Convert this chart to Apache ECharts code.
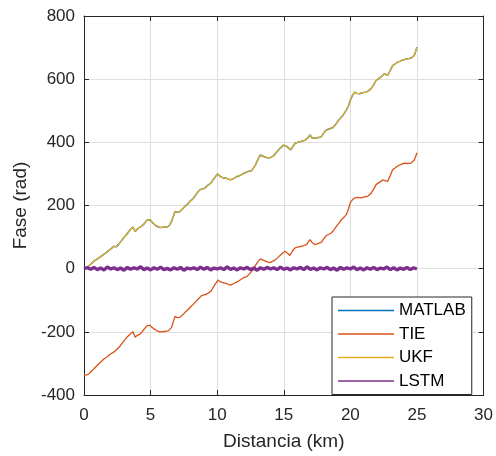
<!DOCTYPE html>
<html>
<head>
<meta charset="utf-8">
<script src="https://cdn.jsdelivr.net/npm/echarts@6/dist/echarts.min.js"></script>
<style>html,body{margin:0;padding:0;background:#fff}#c{width:496px;height:456px}</style>
</head>
<body>
<div id="c"></div>
<script>
const seriesNames = ['MATLAB', 'TIE', 'UKF', 'LSTM'];
const xTicks = [0, 5, 10, 15, 20, 25, 30];
const yTicks = [-400, -200, 0, 200, 400, 600, 800];

const ukfDist = [0,0.25,0.5,0.75,1.0,1.25,1.49,1.75,2.0,2.24,2.4,2.6,2.8,2.98,3.2,3.48,3.68,3.84,4.1,4.3,4.47,4.72,4.97,5.2,5.4,5.59,5.8,5.96,6.2,6.4,6.58,6.83,7.0,7.2,7.4,7.57,7.8,7.95,8.15,8.32,8.5,8.7,8.9,9.07,9.25,9.39,9.55,9.69,9.85,10.03,10.2,10.4,10.7,11.0,11.25,11.5,11.75,12.0,12.25,12.4,12.6,12.87,13.05,13.24,13.49,13.7,13.86,14.05,14.23,14.4,14.6,14.8,14.98,15.2,15.35,15.52,15.7,15.85,16.05,16.22,16.4,16.6,16.8,16.97,17.15,17.3,17.6,17.83,18.0,18.2,18.45,18.7,18.9,19.07,19.25,19.45,19.7,19.85,20.0,20.15,20.32,20.5,20.69,20.9,21.18,21.35,21.56,21.75,21.93,22.1,22.3,22.55,22.8,23.0,23.17,23.35,23.55,23.75,23.92,24.15,24.4,24.6,24.8,24.9,25.0];
const ukfPhase = [0,5,14,24,31,38,45,54,62,71,69,77,88,98,108,124,132,118,129,134,140,153,155,143,136,132,130,132,131,136,150,181,178,181,189,197,205,213,220,229,240,250,252,255,262,265,272,281,290,300,293,288,286,281,286,292,296,302,307,303,311,328,345,360,355,352,350,353,357,366,376,384,391,388,386,376,388,397,400,402,404,407,414,423,413,407,415,418,430,439,443,447,457,468,476,486,502,515,533,548,559,555,554,557,559,563,570,582,596,601,607,617,612,628,643,648,654,657,661,663,665,668,675,688,701];

const matlabDist = ukfDist;
const matlabPhase = ukfPhase;

const tieDist = [0,0.2,0.37,0.55,0.75,0.95,1.12,1.3,1.49,1.75,1.99,2.2,2.36,2.55,2.73,2.9,3.1,3.3,3.48,3.68,3.84,4.0,4.22,4.45,4.72,4.92,5.2,5.45,5.7,6.0,6.33,6.58,6.83,7.0,7.2,7.4,7.57,7.8,7.95,8.2,8.44,8.65,8.81,9.0,9.19,9.4,9.56,9.8,10.06,10.25,10.43,10.7,11.0,11.25,11.5,11.75,12.0,12.24,12.45,12.62,12.8,13.0,13.24,13.45,13.6,13.8,13.97,14.15,14.34,14.55,14.72,14.9,15.09,15.3,15.46,15.65,15.85,16.1,16.35,16.55,16.72,16.85,16.97,17.15,17.35,17.6,17.83,18.0,18.2,18.4,18.57,18.75,18.95,19.15,19.32,19.5,19.7,19.85,19.99,20.15,20.32,20.55,20.81,21.05,21.3,21.56,21.75,21.93,22.2,22.43,22.6,22.8,23.0,23.17,23.35,23.55,23.8,24.05,24.3,24.54,24.8,24.9,25.0];
const tiePhase = [-338,-336,-333,-325,-317,-308,-301,-294,-286,-279,-270,-265,-260,-252,-244,-234,-223,-214,-207,-200,-217,-211,-207,-195,-181,-179,-189,-196,-200,-199,-197,-186,-151,-155,-154,-147,-139,-130,-123,-113,-102,-93,-86,-83,-81,-75,-70,-52,-36,-42,-44,-47,-52,-47,-42,-35,-28,-25,-15,-7,5,19,31,27,24,21,19,23,27,35,42,49,55,48,42,56,66,69,71,74,76,85,92,82,76,80,84,95,105,109,113,122,134,145,155,162,171,188,208,218,224,226,224,227,229,239,252,266,274,281,279,276,295,313,319,325,330,334,333,334,344,355,367];

const lstmDist = [0,0.25,0.5,0.75,1,1.25,1.5,1.75,2,2.25,2.5,2.75,3,3.25,3.5,3.75,4,4.25,4.5,4.75,5,5.25,5.5,5.75,6,6.25,6.5,6.75,7,7.25,7.5,7.75,8,8.25,8.5,8.75,9,9.25,9.5,9.75,10,10.25,10.5,10.75,11,11.25,11.5,11.75,12,12.25,12.5,12.75,13,13.25,13.5,13.75,14,14.25,14.5,14.75,15,15.25,15.5,15.75,16,16.25,16.5,16.75,17,17.25,17.5,17.75,18,18.25,18.5,18.75,19,19.25,19.5,19.75,20,20.25,20.5,20.75,21,21.25,21.5,21.75,22,22.25,22.5,22.75,23,23.25,23.5,23.75,24,24.25,24.5,24.75,25];
const lstmPhase = [0,3,-2,4,-3,2,-4,5,-1,3,-3,2,-5,4,-2,3,-1,6,-3,2,-4,3,-2,5,-3,1,-4,3,-2,4,-5,2,-1,3,-3,5,-2,4,-4,2,-1,3,-3,6,-2,2,-4,3,-1,4,-3,2,-5,3,-2,4,-1,3,-3,5,-2,2,-4,3,-1,4,-3,6,-2,2,-4,3,-1,4,-3,2,-5,4,-2,3,-1,5,-3,2,-4,3,-2,4,-3,2,-1,5,-3,3,-4,2,-2,4,-3,3,-1,4,2];

const colors = ['#0072BD', '#D95319', '#EDB120', '#7E2F8E'];
const FONT = 'Liberation Sans, Arial, Helvetica, sans-serif';
const AX = '#262626';

function pairs(xs, ys) { return xs.map((x, i) => [x, ys[i]]); }

const chart = echarts.init(document.getElementById('c'), null, {renderer: 'canvas'});
const xBase = {type: 'value', min: xTicks[0], max: xTicks[xTicks.length - 1], interval: 5};
const yBase = {type: 'value', min: yTicks[0], max: yTicks[yTicks.length - 1], interval: 200};
const lineAx = {show: true, onZero: false, lineStyle: {color: AX, width: 1}};
const tickAx = {show: true, inside: true, length: 5, lineStyle: {color: AX, width: 1}};

const dataSets = [pairs(matlabDist, matlabPhase), pairs(tieDist, tiePhase), pairs(ukfDist, ukfPhase), pairs(lstmDist, lstmPhase)];
const widths = [1.5, 1.3, 1.3, 3.4];
const legendLine = 'path://M0,0 L56,0 L56,1.5 L0,1.5 Z';

chart.setOption({
  animation: false,
  backgroundColor: '#fff',
  grid: {left: 84, right: 9, top: 16, bottom: 59, containLabel: false},
  xAxis: [
    Object.assign({}, xBase, {
      position: 'bottom',
      name: 'Distancia (km)', nameLocation: 'middle', nameGap: 37,
      nameTextStyle: {fontFamily: FONT, fontSize: 19, color: AX},
      axisLine: lineAx, axisTick: tickAx,
      axisLabel: {fontFamily: FONT, fontSize: 17, color: AX, margin: 12},
      splitLine: {show: true, lineStyle: {color: '#dfdfdf', width: 1}}
    }),
    Object.assign({}, xBase, {
      position: 'top', axisLine: lineAx, axisTick: tickAx,
      axisLabel: {show: false}, splitLine: {show: false}
    })
  ],
  yAxis: [
    Object.assign({}, yBase, {
      position: 'left',
      name: 'Fase (rad)', nameLocation: 'middle', nameGap: 46,
      nameTextStyle: {fontFamily: FONT, fontSize: 19, color: AX},
      axisLine: lineAx, axisTick: tickAx,
      axisLabel: {fontFamily: FONT, fontSize: 17, color: AX, margin: 9},
      splitLine: {show: true, lineStyle: {color: '#dfdfdf', width: 1}}
    }),
    Object.assign({}, yBase, {
      position: 'right', axisLine: lineAx, axisTick: tickAx,
      axisLabel: {show: false}, splitLine: {show: false}
    })
  ],
  legend: {
    orient: 'vertical', left: 332, top: 297,
    padding: [5, 6, 5, 6],
    backgroundColor: '#fff', borderColor: AX, borderWidth: 1, borderRadius: 0,
    itemWidth: 56, itemHeight: 14, itemGap: 6.5, symbolKeepAspect: true,
    textStyle: {fontFamily: FONT, fontSize: 17, color: '#000', lineHeight: 17},
    data: seriesNames.map((n, i) => ({name: n, icon: legendLine, itemStyle: {color: colors[i]}}))
  },
  series: seriesNames.map((n, i) => ({
    name: n, type: 'line', xAxisIndex: 0, yAxisIndex: 0,
    data: dataSets[i], symbol: 'none', showSymbol: false,
    lineStyle: {color: colors[i], width: widths[i]},
    itemStyle: {color: colors[i]},
    z: 2 + i
  }))
});
</script>
</body>
</html>
